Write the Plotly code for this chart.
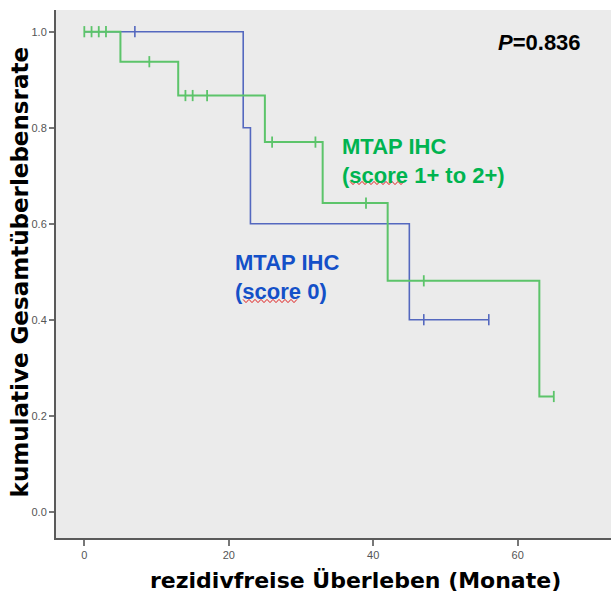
import numpy as np
import plotly.graph_objects as go

# --- data ---
green_step_t = [0, 5, 13, 25, 33, 42, 63, 65]
green_step_s = [1.0, 0.9375, 0.867, 0.770, 0.643, 0.481, 0.240, 0.240]
green_cens_t = [0, 1, 2, 3, 9, 14, 15, 17, 26, 32, 39, 47, 65]

blue_step_t = [0, 22, 23, 45, 56]
blue_step_s = [1.0, 0.8, 0.6, 0.4, 0.4]
blue_cens_t = [7, 47, 56]

x_ticks = [0, 20, 40, 60]
y_ticks = [0.0, 0.2, 0.4, 0.6, 0.8, 1.0]

GREEN_LINE = "#5cc46a"
BLUE_LINE = "#5468bf"
GREEN_TEXT = "#00b450"
BLUE_TEXT = "#1450c8"

X_RANGE = [-3.92, 72.92]
Y_RANGE = [-0.0548, 1.0452]


def surv_at(step_t, step_s, t):
    idx = np.searchsorted(np.array(step_t), t, side="right") - 1
    return [step_s[i] for i in idx]


fig = go.Figure()

# blue group (score 0)
fig.add_trace(go.Scatter(x=blue_step_t, y=blue_step_s, mode="lines",
                         line=dict(color=BLUE_LINE, width=1.6, shape="hv"),
                         hoverinfo="skip", showlegend=False))
fig.add_trace(go.Scatter(x=blue_cens_t, y=surv_at(blue_step_t, blue_step_s, blue_cens_t),
                         mode="markers",
                         marker=dict(symbol="line-ns", size=8,
                                     line=dict(color=BLUE_LINE, width=1.6)),
                         hoverinfo="skip", showlegend=False))

# green group (score 1+ to 2+)
fig.add_trace(go.Scatter(x=green_step_t, y=green_step_s, mode="lines",
                         line=dict(color=GREEN_LINE, width=2, shape="hv"),
                         hoverinfo="skip", showlegend=False))
fig.add_trace(go.Scatter(x=green_cens_t, y=surv_at(green_step_t, green_step_s, green_cens_t),
                         mode="markers",
                         marker=dict(symbol="line-ns", size=8,
                                     line=dict(color=GREEN_LINE, width=1.8)),
                         hoverinfo="skip", showlegend=False))

tick_font = dict(family="Liberation Sans Narrow, Liberation Sans, Arial", size=11, color="#555555")
label_font = dict(family="Liberation Sans, Arial", size=22, weight="bold")

annotations = [
    dict(x=57.0, y=0.977, xref="x", yref="y", xanchor="left", yanchor="middle",
         text="<i>P</i>=0.836", showarrow=False,
         font=dict(family="Liberation Sans, Arial", size=22, color="black", weight="bold")),
    dict(x=35.4, y=0.7296, xref="x", yref="y", xanchor="left", yanchor="middle",
         align="left", text="MTAP IHC<br>(score 1+ to 2+)", showarrow=False,
         font=dict(label_font, color=GREEN_TEXT)),
    dict(x=20.55, y=0.488, xref="x", yref="y", xanchor="left", yanchor="middle",
         align="left", text="MTAP IHC<br>(score 0)", showarrow=False,
         font=dict(label_font, color=BLUE_TEXT)),
    dict(x=0.539, y=-0.0814, xref="paper", yref="paper", xanchor="center", yanchor="middle",
         text="rezidivfreise Überleben (Monate)", showarrow=False,
         font=dict(family="DejaVu Sans", size=22, color="black", weight="bold")),
    dict(x=-0.0649, y=0.503, xref="paper", yref="paper", xanchor="center", yanchor="middle",
         text="kumulative Gesamtüberlebensrate", textangle=-90, showarrow=False,
         font=dict(family="DejaVu Sans", size=23, color="black", weight="bold")),
]

# red spell-check squiggles under the word "score" (decoration, in data coords)
PX_X0, PX_PER_X = 84.3, 7.223
PX_Y0, PX_PER_Y = 511.7, 480.0
shapes = []
for (x0, x1, yp) in [(350, 405, 183), (243, 298, 301)]:
    pts = []
    x = x0
    k = 0
    while x <= x1:
        py = yp + (1.6 if k % 2 else -1.6)
        pts.append(((x - PX_X0) / PX_PER_X, (PX_Y0 - py) / PX_PER_Y))
        x += 3.0
        k += 1
    shapes.append(dict(type="path", xref="x", yref="y",
                       path="M " + " L ".join(f"{a:.3f},{b:.4f}" for a, b in pts),
                       line=dict(color="#e02020", width=1)))

fig.update_layout(
    width=611, height=597,
    margin=dict(l=56, r=0, t=10, b=59),
    paper_bgcolor="white",
    plot_bgcolor="#ebebeb",
    annotations=annotations,
    shapes=shapes,
    hovermode=False,
    xaxis=dict(range=X_RANGE, tickvals=x_ticks, ticktext=[str(v) for v in x_ticks],
               showgrid=False, zeroline=False, showline=True, linecolor="#5a5a5a", linewidth=2,
               ticks="outside", ticklen=6, tickwidth=1.5, tickcolor="#777777",
               tickfont=tick_font, fixedrange=True),
    yaxis=dict(range=Y_RANGE, tickvals=y_ticks, ticktext=[f"{v:.1f}" for v in y_ticks],
               showgrid=False, zeroline=False, showline=True, linecolor="#5a5a5a", linewidth=2,
               ticks="outside", ticklen=5, tickwidth=1.5, tickcolor="#777777",
               tickfont=tick_font, fixedrange=True),
)

# remove the default page margin / scrollbars so the figure fills the window exactly
post = ("document.documentElement.style.overflow='hidden';"
        "document.body.style.margin='0';document.body.style.overflow='hidden';")
fig.write_html("out.html", post_script=post, config={"displayModeBar": False})
